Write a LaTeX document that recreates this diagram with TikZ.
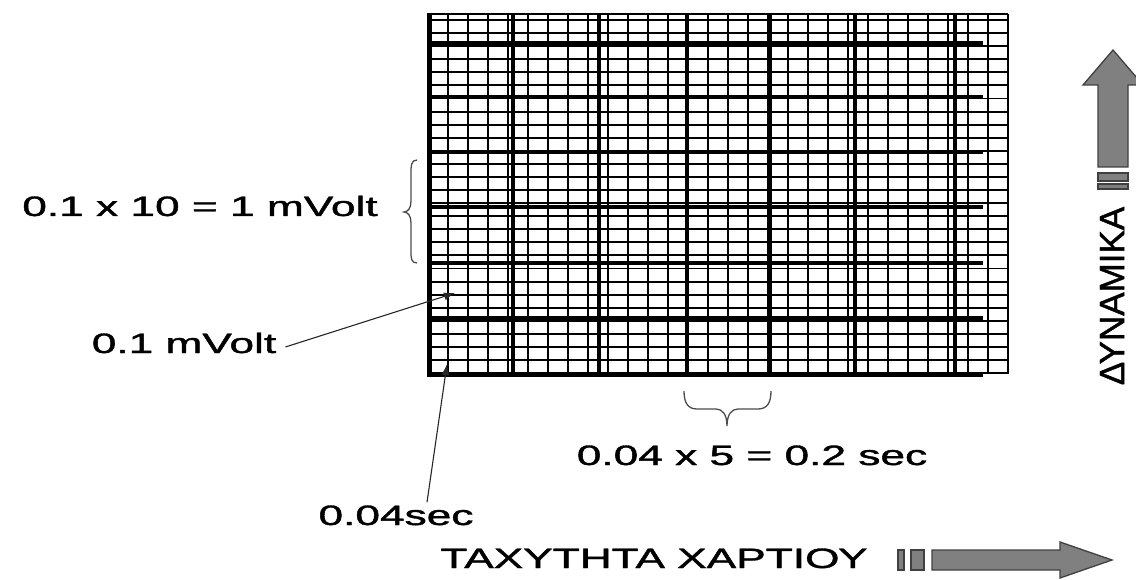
\documentclass[tikz,border=0pt]{standalone}
\usepackage{fontspec}
\setmainfont{Liberation Sans}
\newfontfamily\lblfont{Liberation Sans}[FakeBold=1.2]
\usepackage{graphicx}
\usetikzlibrary{arrows.meta}
\newcommand{\wide}[1]{\scalebox{1.58}[1]{#1}}
\begin{document}
\begin{tikzpicture}[x=1pt,y=-1pt]
\useasboundingbox (0,0) rectangle (1136,580);
\tikzset{
  thingrid/.style={line width=1.9pt, black},
  thickgrid/.style={line width=4.6pt, black},
  lbl/.style={font=\lblfont\fontsize{28}{30}\selectfont, inner sep=0pt, text=black},
  braceline/.style={draw=black!70, line width=1.3pt},
  pointer/.style={draw=black!85, line width=1.1pt, -{Latex[length=11pt,width=8pt]}},
  bigarrow/.style={fill=black!50, draw=black!75, line width=1.3pt},
}
% ---- ECG paper grid ----
\foreach \k in {0,...,29} \draw[thingrid] ({428+20*\k},14) -- ({428+20*\k},374);
\foreach \k in {0,...,27} \draw[thingrid] (428,{20+13.08*\k}) -- (1008,{20+13.08*\k});
\draw[thingrid] (428,14) -- (1008,14);
\foreach \x in {513,599,687,770,855,955} \draw[thickgrid] (\x,14) -- (\x,375);
\foreach \y in {43,97,152,207,263,318} \draw[thickgrid] (428,\y) -- (983,\y);
\draw[line width=5pt] (429.5,13) -- (429.5,374) -- (983,374);

% ---- labels ----
\node[lbl, anchor=base] (n1) at (200,216) {\wide{0.1 x 10 = 1 mVolt}};
\node[lbl, anchor=base] (n2) at (184,353) {\wide{0.1 mVolt}};
\node[lbl, anchor=base] (n3) at (396,525) {\wide{0.04sec}};
\node[lbl, anchor=base] (n4) at (752,465) {\wide{0.04 x 5 = 0.2 sec}};
\node[lbl, anchor=base] (n5) at (654,568) {\wide{ΤΑΧΥΤΗΤΑ ΧΑΡΤΙΟΥ}};
\node[font=\lblfont\fontsize{35}{36}\selectfont, inner sep=0pt, rotate=90] (n6) at (1112,296) {ΔΥΝΑΜΙΚΑ};

% ---- braces ----
\coordinate (bt) at (417,160);
\coordinate (bb) at (417,263);
\draw[braceline] (bt) .. controls (411,160) and (411,166) .. (411,173) -- (411,201)
  .. controls (411,208) and (408,212) .. (404,212)
  .. controls (408,212) and (411,216) .. (411,223) -- (411,251)
  .. controls (411,258) and (411,263) .. (bb);
\coordinate (cl) at (684,391);
\coordinate (cr) at (771,391);
\draw[braceline] (cl) .. controls (684,403) and (688,409) .. (697,409) -- (716,409)
  .. controls (722,409) and (727,414) .. (727,426)
  .. controls (727,414) and (732,409) .. (738,409) -- (758,409)
  .. controls (767,409) and (771,403) .. (cr);

% ---- pointers ----
\coordinate (t1) at (455,293);
\coordinate (t2) at (447,364);
\draw[pointer] ([xshift=9pt,yshift=-4pt]n2.east) -- (t1);
\draw[pointer] ([xshift=31pt,yshift=3pt]n3.north) -- (t2);

% ---- big grey arrows ----
\draw[bigarrow] (898,550) rectangle (904,570);
\draw[bigarrow] (911,550) rectangle (924,570);
\draw[bigarrow] (932,550) -- (1060,550) -- (1060,542) -- (1112,560) -- (1060,578) -- (1060,570) -- (932,570) -- cycle;
\draw[bigarrow] (1098,184) rectangle (1128,189);
\draw[bigarrow] (1098,173) rectangle (1128,181);
\draw[bigarrow] (1098,167) -- (1098,85) -- (1083,85) -- (1113,50) -- (1143,85) -- (1128,85) -- (1128,167) -- cycle;
\end{tikzpicture}
\end{document}
